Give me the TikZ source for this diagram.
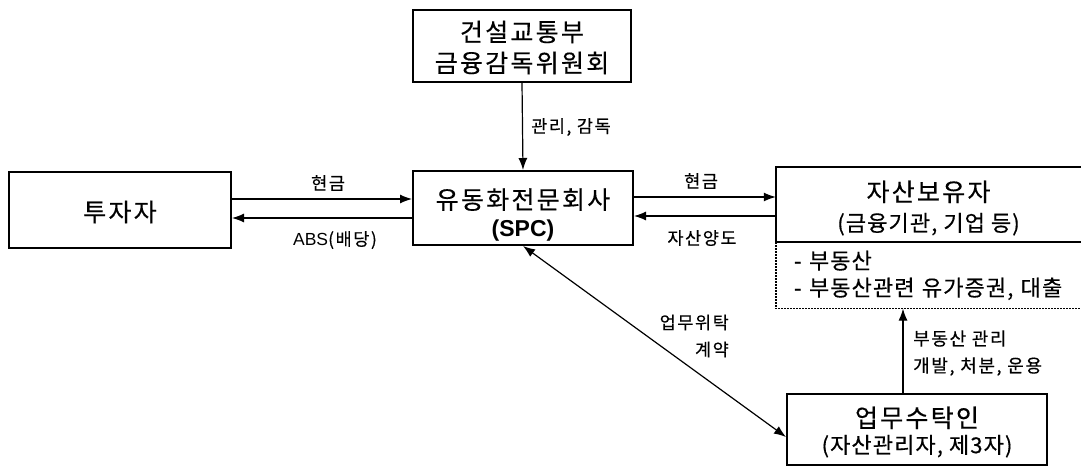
\documentclass[tikz,border=0pt]{standalone}
\usepackage{fontspec}
\setmainfont{Noto Sans CJK KR}[FakeBold=0.4]
\newfontfamily\arialfont{Liberation Sans}
\usetikzlibrary{arrows.meta}
\begin{document}
\begin{tikzpicture}[x=1pt,y=-1pt,
  box/.style={draw, line width=2pt, inner sep=0pt},
  txt/.style={inner sep=0pt, align=center},
  big/.style={font=\fontsize{25}{31}\selectfont\addfontfeature{LetterSpace=9}},
  conn/.style={line width=1.2pt, -{Latex[length=12pt,width=9pt]}},
  dconn/.style={line width=1.2pt, {Latex[length=12pt,width=9pt]}-{Latex[length=12pt,width=9pt]}},
  lbl/.style={font=\fontsize{17.5}{27}\selectfont\addfontfeature{LetterSpace=9}, inner sep=0pt},
  sub/.style={font=\fontsize{22}{27}\selectfont\addfontfeature{LetterSpace=5}}]
\useasboundingbox (0,0) rectangle (1081,468);
\clip (0,0) rectangle (1081,468);

% boxes
\node[box, minimum width=218pt, minimum height=72pt] (top) at (522,46) {};
\node[txt, big] (topt) at (522,47.5) {건설교통부\\금융감독위원회};

\node[box, minimum width=220pt, minimum height=74pt] (spc) at (523,208) {};
\node[txt, font=\fontsize{25}{28}\selectfont] (spct) at (523,215)
  {{\addfontfeature{LetterSpace=9}유동화전문회사}\\{\arialfont\fontsize{23}{28}\selectfont\bfseries (SPC)}};

\node[box, minimum width=222pt, minimum height=76pt] (inv) at (120,210) {};
\node[txt, big] (invt) at (120,212) {투자자};

\node[inner sep=0pt, minimum width=305pt, minimum height=75pt] (ab) at (928.5,204.5) {};
\draw[line width=2pt] ([xshift=20pt]ab.north east) -- (ab.north west) -- (ab.south west) -- ([xshift=20pt]ab.south east);
\node[txt, font=\fontsize{22}{30}\selectfont] (abt) at (928.5,208)
  {{\fontsize{25}{30}\selectfont\addfontfeature{LetterSpace=9}자산보유자}\\{\addfontfeature{LetterSpace=5}(금융기관, 기업 등)}};

\node[sub, anchor=north west, inner xsep=18pt, inner ysep=0pt, minimum height=66pt, text width=300pt, align=left] (assets) at (ab.south west)
  {- 부동산\\- 부동산관련 유가증권, 대출};
\draw[line width=1.5pt, dash pattern=on 1.5pt off 1.5pt] (assets.north west) -- (assets.south west) -- (assets.south east);

\node[box, minimum width=260pt, minimum height=71pt] (wt) at (917,429) {};
\node[txt, font=\fontsize{22}{26}\selectfont] (wtt) at (917,432)
  {{\fontsize{25}{26}\selectfont\addfontfeature{LetterSpace=9}업무수탁인}\\{\addfontfeature{LetterSpace=5}(자산관리자, 제3자)}};

% connectors
\draw[conn] (top.south) -- (spc.north);
\node[lbl, anchor=west] (l1) at (531,127) {관리, 감독};

\draw[conn] (inv.east |- 0,199) -- (spc.west |- 0,199);
\draw[conn] (spc.west |- 0,218) -- (inv.east |- 0,218);
\node[lbl] (l2) at (328,183) {현금};
\node[lbl] (l3) at (335,240) {{\arialfont\addfontfeature{LetterSpace=0}ABS}(배당)};

\draw[conn] (spc.east |- 0,197) -- (ab.west |- 0,197);
\draw[conn] (ab.west |- 0,216) -- (spc.east |- 0,216);
\node[lbl] (l4) at (701,181) {현금};
\node[lbl] (l5) at (702,238) {자산양도};

\draw[dconn] (spc.south) -- (wt.west |- 0,437);
\node[lbl, anchor=east, align=right] (l6) at (729,336) {업무위탁\\계약};

\draw[conn] (wt.north -| 903,0) -- (assets.south -| 903,0);
\node[lbl, font=\fontsize{18}{27}\selectfont\addfontfeature{LetterSpace=9}, anchor=west, align=left] (l7) at (913,353) {부동산 관리\\개발, 처분, 운용};
\end{tikzpicture}
\end{document}
